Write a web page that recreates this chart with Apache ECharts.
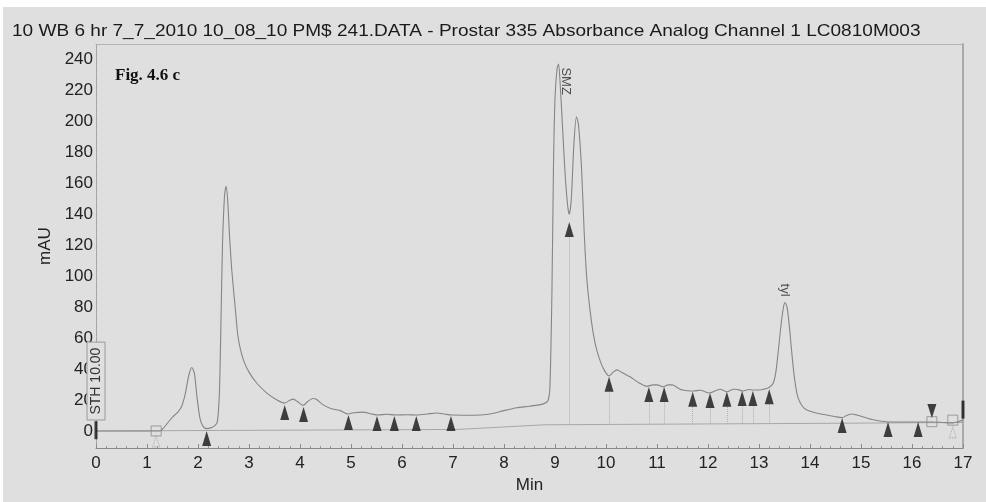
<!DOCTYPE html>
<html><head><meta charset="utf-8">
<script src="https://cdn.jsdelivr.net/npm/echarts@6/dist/echarts.min.js"></script>
<style>html,body{margin:0;padding:0;background:#fff;}#c{width:986px;height:502px;}</style>
</head><body><div id="c"></div>
<script>
// ---- Data ----
const titleText = '10 WB 6 hr 7_7_2010 10_08_10 PM$ 241.DATA - Prostar 335 Absorbance Analog Channel 1 LC0810M003';
const yTicks = [0,20,40,60,80,100,120,140,160,180,200,220,240];
const xTicks = [0,1,2,3,4,5,6,7,8,9,10,11,12,13,14,15,16,17];
const times = [0,0.5,1.0,1.25,1.3,1.4,1.5,1.6,1.68,1.75,1.82,1.88,1.93,1.98,2.04,2.1,2.17,2.25,2.33,2.38,2.42,2.45,2.48,2.52,2.55,2.58,2.62,2.66,2.7,2.74,2.78,2.83,2.9,3.0,3.15,3.35,3.55,3.7,3.8,3.87,3.95,4.06,4.15,4.25,4.32,4.45,4.6,4.8,4.94,5.05,5.24,5.4,5.53,5.7,5.87,6.1,6.3,6.5,6.68,6.85,6.98,7.3,7.6,7.8,7.98,8.25,8.5,8.77,8.86,8.9,8.94,8.97,9.0,9.04,9.07,9.1,9.15,9.2,9.25,9.28,9.32,9.37,9.42,9.46,9.52,9.57,9.62,9.68,9.75,9.82,9.9,9.97,10.06,10.14,10.22,10.3,10.47,10.65,10.8,10.92,11.0,11.12,11.22,11.3,11.45,11.6,11.71,11.85,12.03,12.15,12.24,12.37,12.5,12.55,12.69,12.8,12.88,13.02,13.15,13.21,13.28,13.33,13.38,13.43,13.48,13.51,13.55,13.6,13.65,13.7,13.76,13.85,13.94,14.1,14.33,14.5,14.63,14.72,14.82,14.92,15.05,15.24,15.5,15.8,16.1,16.4,16.6,16.8,16.9,17.0];
const mAU = [0,0,0,0,1,5,9,12,16,24,36,41,37,22,8,3,1.5,2,3.5,6,25,70,120,152,158,150,125,105,90,76,62,53,45,38,31,24.5,20,18,19.8,20.6,19,16.5,19,21,20.5,17,14.5,13,11,11.8,12.2,11,10.3,10.8,10.3,10.5,10.3,11,11.6,10.8,10.3,10.2,10.5,11.5,13,15,16,17.5,19.5,28,90,170,215,234,237,225,195,165,145,140,150,185,203,198,170,130,100,80,63,52,44,39,35.5,38,39.5,38,35,31,28.8,29.8,29.8,28.5,29.8,29.8,27,26,25.8,26.3,24.5,26,27,25.3,27,27,25.8,26.8,26.5,26.5,27.5,28.4,31,38,52,68,80,83,80,66,48,33,22,16,13.5,11.8,10.3,9.2,8.6,10,11,10.3,9,7.2,6,5.8,5.8,5.8,5.5,5.2,6,7];
const baseTimes = [0,7.1,8.8,14.6,17];
const baseValues = [0,1,4,5,5.5];
const markerTimes = [2.17,3.7,4.07,4.95,5.51,5.85,6.28,6.96,9.28,10.06,10.84,11.14,11.7,12.04,12.37,12.67,12.88,13.2,14.63,15.53,16.12];
const markerTips = [0,16.7,15.5,10.3,9.7,9.7,9.7,9.7,135,35,28.4,28.4,25.3,24.5,25.3,25.8,25.8,27,8.4,5.8,5.8];
const dropTimes = [9.28,10.06,10.84,11.14,11.7,12.04,12.37,12.67,12.88,13.2];
const dropTops = [125,25,18.5,18.5,15.5,14.5,15.5,16,16,17];
const downMarkerTimes = [16.39];
const downMarkerTips = [8.4];
const barTimes = [0,17];
const barValues = [0.5,13.8];
const squareTimes = [1.18,16.39,16.8];
const squareValues = [0,6,7];
const ghostTimes = [1.18,16.8];
const ghostTips = [-3.2,2.6];
const peakNames = ['SMZ','tyl'];
const peakLabelTimes = [9.2,13.51];
const peakLabelValues = [226,91];

// ---- Chart ----
const chart = echarts.init(document.getElementById('c'), null, {renderer:'canvas'});
const BG = '#dfdfdf';
const FONT = 'Liberation Sans, Arial, sans-serif';
const zip = (a,b) => a.map((v,i)=>[v,b[i]]);

const option = {
  backgroundColor: '#ffffff',
  animation: false,
  title: [{
    text: 'Fig. 4.6 c', left: 110, top: 62,
    textStyle: {fontFamily: 'Liberation Serif, Times New Roman, serif', fontSize: 17, fontWeight: 'bold', color: '#111'}
  }],
  grid: {left: 96, right: 23, top: 44, bottom: 54, show: false},
  xAxis: [{
    type: 'value', min: 0, max: 17, interval: 1,
    name: 'Min', nameLocation: 'middle', nameGap: 25,
    nameTextStyle: {fontFamily: FONT, fontSize: 17, color: '#222'},
    axisLine: {show: true, onZero: false, lineStyle: {color: '#8a8a8a', width: 1}},
    axisTick: {show: true, inside: true, length: 4, lineStyle: {color: '#8a8a8a'}},
    minorTick: {show: true, splitNumber: 5, length: 2, lineStyle: {color: '#999'}},
    axisLabel: {fontFamily: FONT, fontSize: 17, color: '#222', margin: 7, customValues: xTicks},
    splitLine: {show: false}
  },{
    type: 'value', position: 'top', min: 0, max: 17,
    axisLine: {show: true, onZero: false, lineStyle: {color: '#aaa', type: 'dotted'}},
    axisTick: {show: false}, axisLabel: {show: false}, splitLine: {show: false}
  }],
  yAxis: [{
    type: 'value', min: -11, max: 250,
    name: 'mAU', nameLocation: 'middle', nameGap: 33,
    nameTextStyle: {fontFamily: FONT, fontSize: 17, color: '#222'},
    axisLine: {show: true, onZero: false, lineStyle: {color: '#999', type: 'dotted'}},
    axisTick: {show: false},
    axisLabel: {fontFamily: FONT, fontSize: 17, color: '#222', margin: 3, customValues: yTicks},
    splitLine: {show: false}
  },{
    type: 'value', position: 'right', min: -11, max: 250,
    axisLine: {show: true, onZero: false, lineStyle: {color: '#aaa', width: 2}},
    axisTick: {show: false}, axisLabel: {show: false}, splitLine: {show: false}
  }],
  series: [
    {type:'line', name:'baseline', data: zip(baseTimes, baseValues), symbol:'none',
     lineStyle:{color:'#a8a8a8', width:1}, silent:true, z:1},
    {type:'line', name:'signal', data: zip(times, mAU), symbol:'none', smooth: 0.25,
     lineStyle:{color:'#858585', width:1.1}, z:3},
    {type:'scatter', name:'markers', data: zip(markerTimes, markerTips), symbol:'triangle',
     symbolSize:[9,15], symbolOffset:[0,'50%'], itemStyle:{color:'#151515'}, z:5,
     markLine:{silent:true, symbol:'none', label:{show:false},
       lineStyle:{color:'#b0b0b0', type:'dotted', width:1},
       data: dropTimes.map((t,i)=>[{coord:[t, dropTops[i]]},{coord:[t, 4.5]}])}},
    {type:'scatter', name:'down', data: zip(downMarkerTimes, downMarkerTips), symbol:'triangle',
     symbolRotate:180, symbolSize:[9,14], symbolOffset:[0,'-50%'], itemStyle:{color:'#151515'}, z:5},
    {type:'scatter', name:'bars', data: zip(barTimes, barValues), symbol:'rect',
     symbolSize:[3,18], itemStyle:{color:'#111'}, z:6},
    {type:'scatter', name:'squares', data: zip(squareTimes, squareValues), symbol:'rect',
     symbolSize:[10,10], itemStyle:{color:'rgba(0,0,0,0)', borderColor:'#8a8a8a', borderWidth:1}, z:4},
    {type:'scatter', name:'ghost', data: zip(ghostTimes, ghostTips), symbol:'triangle',
     symbolSize:[7,11], symbolOffset:[0,'50%'], itemStyle:{color:'rgba(0,0,0,0)', borderColor:'#9a9a9a', borderWidth:1, borderType:'dotted'}, z:4},
    {type:'scatter', name:'labels', data: peakLabelTimes.map((t,i)=>({value:[t, peakLabelValues[i]], name: peakNames[i]})),
     symbolSize:0, silent:true, z:6,
     label:{show:true, position:'inside', rotate:-90, formatter: p=>p.name,
       fontFamily: FONT, fontSize: 13, color:'#2a2a2a'}}
  ]
};
chart.setOption(option);

// STH annotation box placed via data coordinates; title stretched like the original
const pTop = chart.convertToPixel({gridIndex:0}, [0, 57.4]);
const pBot = chart.convertToPixel({gridIndex:0}, [0, 7.1]);
chart.setOption({graphic: [
  {type:'rect', left: 3, top: 7, z: -10, shape:{width: 983, height: 495}, style:{fill: BG}},
  {type:'text', x: 12, y: 31, scaleX: 1.12, z: 10,
   style:{text: titleText, fontFamily: FONT, fontSize: 17, fill:'#1a1a1a', align:'left', verticalAlign:'middle'}},
  {type:'rect', z: 100, zlevel: 0, shape:{x: pTop[0]-9, y: pTop[1], width: 18, height: pBot[1]-pTop[1]},
   style:{fill: BG, stroke:'#9a9a9a', lineWidth:1}},
  {type:'text', z: 101, x: pTop[0], y: (pTop[1]+pBot[1])/2, rotation: Math.PI/2,
   style:{text:'STH 10.00', fontFamily: FONT, fontSize: 14, fill:'#333', align:'center', verticalAlign:'middle'}}
]});
</script></body></html>
